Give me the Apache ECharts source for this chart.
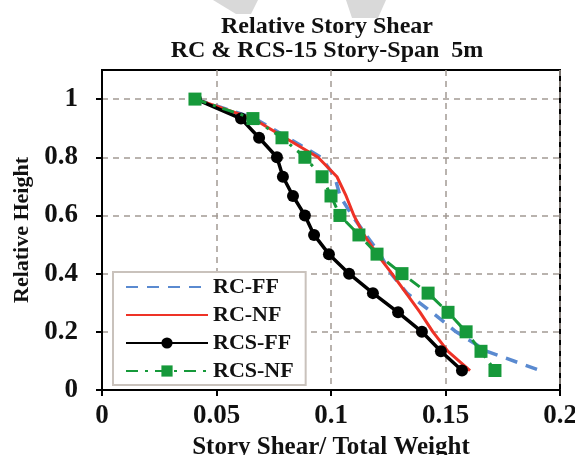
<!DOCTYPE html>
<html><head><meta charset="utf-8">
<script src="https://cdn.jsdelivr.net/npm/echarts@6/dist/echarts.min.js"></script>
<style>html,body{margin:0;padding:0;background:#fff}#c{width:575px;height:455px}</style>
</head><body><div id="c"></div>
<script>
const heights = [1, 0.933, 0.867, 0.8, 0.733, 0.667, 0.6, 0.533, 0.467, 0.4, 0.333, 0.267, 0.2, 0.133, 0.067];
const rcFF  = [0.041, 0.0668, 0.0812, 0.0956, 0.1017, 0.1039, 0.1092, 0.1153, 0.1214, 0.1262, 0.1332, 0.1441, 0.1546, 0.1681, 0.1913];
const rcNF  = [0.041, 0.0659, 0.0799, 0.0943, 0.1026, 0.1066, 0.1100, 0.1144, 0.1201, 0.1266, 0.1328, 0.1389, 0.1445, 0.1511, 0.1607];
const rcsFF = [0.041, 0.0607, 0.0686, 0.0764, 0.0790, 0.0834, 0.0886, 0.0926, 0.0991, 0.1079, 0.1183, 0.1293, 0.1397, 0.1480, 0.1572];
const rcsNF = [0.0406, 0.0659, 0.0786, 0.0886, 0.0961, 0.1000, 0.1039, 0.1122, 0.1201, 0.1310, 0.1424, 0.1511, 0.1590, 0.1655, 0.1716];
const xTicks = [0, 0.05, 0.1, 0.15, 0.2];
const yTicks = [0, 0.2, 0.4, 0.6, 0.8, 1];
const titleLines = ['Relative Story Shear', 'RC & RCS-15 Story-Span  5m'];
const seriesNames = ['RC-FF', 'RC-NF', 'RCS-FF', 'RCS-NF'];

const pair = xs => xs.map((x, i) => [x, heights[i]]);
const F = 'Liberation Serif, Times New Roman, serif';
const fmt = v => (v === 0 ? '0' : String(+v.toFixed(2)));

const chart = echarts.init(document.getElementById('c'), null, {renderer: 'canvas'});
chart.setOption({
  animation: false,
  backgroundColor: '#fff',
  graphic: [
    {type: 'polygon', z: -10, silent: true, shape: {points: [[213, 0], [258, 0], [251, 14], [236, 14]]}, style: {fill: '#d9d9d9'}},
    {type: 'polygon', z: -10, silent: true, shape: {points: [[346, 0], [386, 0], [378, 18], [352, 18]]}, style: {fill: '#d9d9d9'}}
  ],
  title: {
    text: titleLines.join('\n'),
    left: 322, top: 10, textAlign: 'center',
    textStyle: {fontFamily: F, fontWeight: 'bold', fontSize: 24, lineHeight: 24, color: '#111'}
  },
  grid: {left: 102, right: 15, top: 70, bottom: 65, show: true, borderColor: '#000', borderWidth: 2,
         containLabel: false, outerBoundsMode: 'none'},
  xAxis: {
    type: 'value', min: 0, max: 0.2, interval: 0.05,
    name: 'Story Shear/ Total Weight', nameLocation: 'middle', nameGap: 44,
    nameTextStyle: {fontFamily: F, fontWeight: 'bold', fontSize: 25, color: '#111'},
    axisLine: {show: true, lineStyle: {color: '#000', width: 2}},
    axisTick: {show: true, length: 6, lineStyle: {color: '#000', width: 2}, customValues: xTicks},
    axisLabel: {margin: 13, fontFamily: F, fontWeight: 'bold', fontSize: 27, color: '#111', formatter: fmt, customValues: xTicks},
    splitLine: {show: true, lineStyle: {color: '#a39a94', type: [6, 5], width: 1.5}}
  },
  yAxis: {
    type: 'value', min: 0, max: 1.1, interval: 0.2,
    name: 'Relative Height', nameLocation: 'middle', nameGap: 68,
    nameTextStyle: {fontFamily: F, fontWeight: 'bold', fontSize: 22, color: '#111'},
    axisLine: {show: true, lineStyle: {color: '#000', width: 2}},
    axisTick: {show: true, length: 6, lineStyle: {color: '#000', width: 2}, customValues: yTicks},
    axisLabel: {margin: 24, fontFamily: F, fontWeight: 'bold', fontSize: 27, color: '#111', formatter: fmt, customValues: yTicks},
    splitLine: {show: true, lineStyle: {color: '#a39a94', type: [6, 5], width: 1.5}}
  },
  legend: {
    orient: 'vertical', left: 113, top: 272,
    padding: [4, 12, 3, 12],
    itemWidth: 82, itemHeight: 14, itemGap: 6,
    backgroundColor: '#fff', borderColor: '#c9c2bc', borderWidth: 2,
    textStyle: {fontFamily: F, fontWeight: 'bold', fontSize: 22, lineHeight: 21, color: '#111'},
    data: [
      {name: seriesNames[0], itemStyle: {color: 'rgba(0,0,0,0)', borderWidth: 0}},
      {name: seriesNames[1], itemStyle: {color: 'rgba(0,0,0,0)', borderWidth: 0}},
      {name: seriesNames[2]},
      {name: seriesNames[3]}
    ]
  },
  series: [
    {name: seriesNames[0], type: 'line', data: pair(rcFF), symbol: 'none', z: 2,
     lineStyle: {color: '#5a8ad0', width: 3.5, type: [12, 9]}, itemStyle: {color: '#5a8ad0'}},
    {name: seriesNames[1], type: 'line', data: pair(rcNF), symbol: 'none', z: 3,
     lineStyle: {color: '#ee3226', width: 3}, itemStyle: {color: '#ee3226'}},
    {name: seriesNames[2], type: 'line', data: pair(rcsFF), symbol: 'circle', symbolSize: 12, z: 4,
     lineStyle: {color: '#000', width: 3.5}, itemStyle: {color: '#000'}},
    {name: seriesNames[3], type: 'line', data: pair(rcsNF), symbol: 'rect', symbolSize: 13, z: 5,
     lineStyle: {color: '#16993a', width: 3, type: [12, 7, 3, 7]}, itemStyle: {color: '#16993a'}}
  ]
});
</script></body></html>
